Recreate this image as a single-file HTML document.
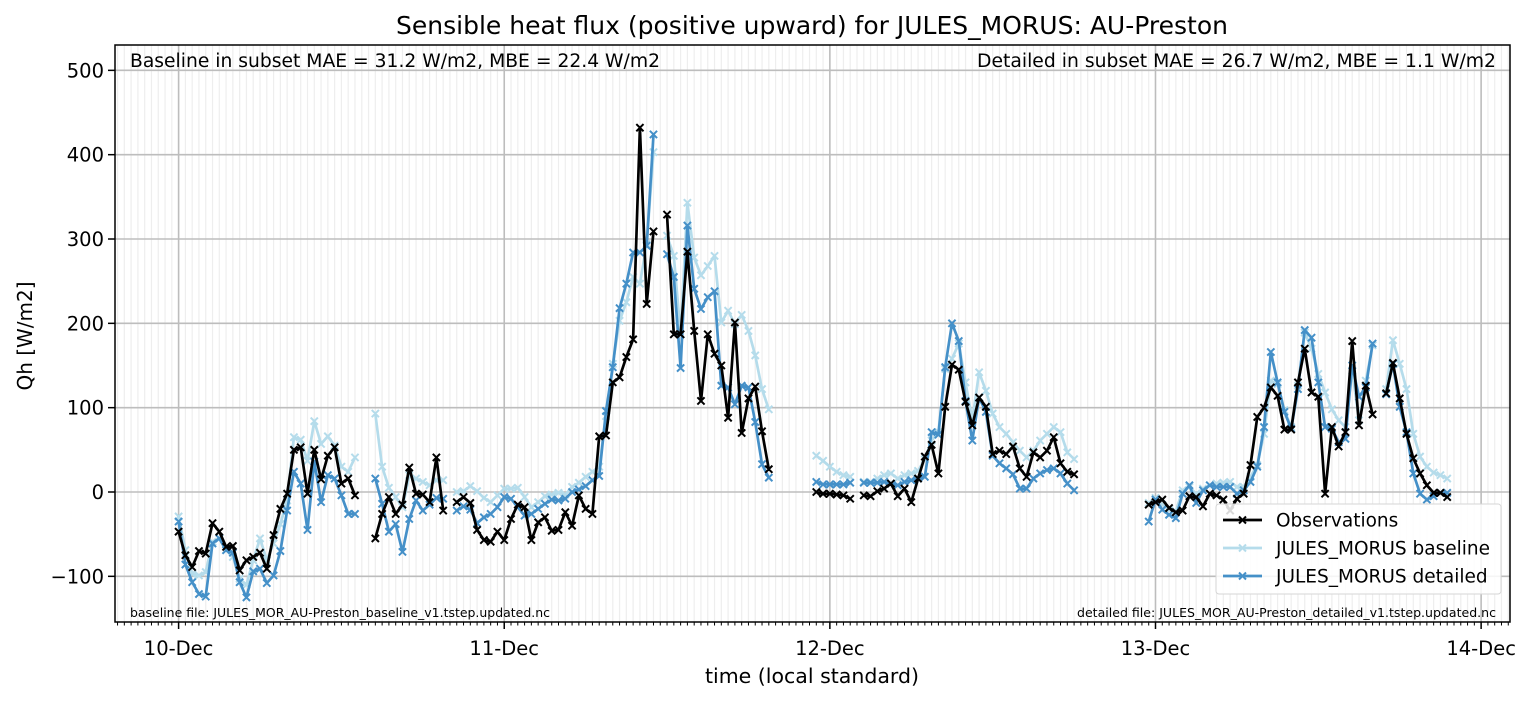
<!DOCTYPE html>
<html><head><meta charset="utf-8"><style>
html,body{margin:0;padding:0;background:#fff;}
svg text{font-family:"DejaVu Sans","Liberation Sans",sans-serif;}
</style></head><body>
<svg id="chart" width="1532" height="701" viewBox="0 0 1532 701" xmlns="http://www.w3.org/2000/svg">
<rect width="1532" height="701" fill="#fff"/>
<g id="grid"></g>
<g id="series"></g>
<g id="axes"></g>
<text x="812" y="34" font-size="24.5" text-anchor="middle" fill="#000" textLength="832" lengthAdjust="spacingAndGlyphs">Sensible heat flux (positive upward) for JULES_MORUS: AU-Preston</text>
<text x="130" y="67" font-size="18.5" fill="#000" textLength="530" lengthAdjust="spacingAndGlyphs">Baseline in subset MAE = 31.2 W/m2, MBE = 22.4 W/m2</text>
<text x="1496" y="67" font-size="18.5" text-anchor="end" fill="#000" textLength="519" lengthAdjust="spacingAndGlyphs">Detailed in subset MAE = 26.7 W/m2, MBE = 1.1 W/m2</text>
<text x="130" y="617" font-size="12.3" fill="#000" textLength="420" lengthAdjust="spacingAndGlyphs">baseline file: JULES_MOR_AU-Preston_baseline_v1.tstep.updated.nc</text>
<text x="1496" y="617" font-size="12.3" text-anchor="end" fill="#000" textLength="419" lengthAdjust="spacingAndGlyphs">detailed file: JULES_MOR_AU-Preston_detailed_v1.tstep.updated.nc</text>
<text x="0" y="0" font-size="20" text-anchor="middle" transform="translate(32,336) rotate(-90)">Qh [W/m2]</text>
<text x="812" y="683" font-size="20.5" text-anchor="middle">time (local standard)</text>
<g id="legend">
<rect x="1216" y="504" width="285" height="90" rx="3" fill="#fff" fill-opacity="0.85" stroke="#d6d6d6"/>
</g>
</svg>
<script>
const dayLabels = ["10-Dec","11-Dec","12-Dec","13-Dec","14-Dec"];
const yTicks = [-100,0,100,200,300,400,500];
const N = null;
const obs = [-47,-75,-89,-70,-73,-37,-47,-65,-64,-93,-81,-77,-72,-91,-51,-20,-2,50,53,-2,50,15,43,53,10,16,-4,
N,N,
-55,-26,-6,-26,-15,29,-2,-3,-12,41,-22,
N,
-12,-6,-13,-45,-57,-59,-47,-57,-32,-15,-18,-57,-36,-30,-46,-45,-24,-40,-4,-20,-26,66,
67,130,136,160,181,432,223,309,
N,
329,187,187,285,191,108,187,164,150,88,201,70,111,125,72,27,
N,N,N,N,N,N,
0,-2,-2,-3,-4,-8,
N,
-4,-5,1,4,10,-5,4,-12,16,42,56,22,101,151,145,107,79,112,101,45,49,45,54,28,18,47,41,49,65,34,24,21,
N,N,N,N,N,N,N,N,N,N,
-15,-12,-9,-19,-24,-22,-5,-6,-17,-2,-4,-9,-22,-8,-2,32,89,100,124,114,74,74,130,170,118,113,-2,77,54,71,179,79,126,92,
N,
117,153,111,69,40,22,8,-1,-1,-6];
const baseline = [-29,-69,-97,-99,-95,-59,-55,-69,-77,-103,-110,-81,-55,-81,-61,-38,-10,65,62,37,84,57,66,55,30,24,41,
N,N,
93,30,5,-6,-18,20,16,12,8,14,14,
N,
0,1,7,1,-7,-12,-4,4,4,5,-6,-18,-12,-5,-3,-1,-3,6,11,18,24,30,
90,152,203,225,255,247,294,403,
N,
304,280,187,343,278,257,268,280,201,215,199,210,191,162,122,98,
N,N,N,N,N,N,
43,37,30,24,20,18,
N,
12,12,16,20,22,16,20,22,25,39,61,71,146,158,176,130,85,142,120,93,77,69,59,49,41,49,61,69,77,71,47,39,
N,N,N,N,N,N,N,N,N,N,
-13,-7,-15,-21,-23,2,6,-2,4,8,10,11,12,6,6,18,32,69,132,128,97,77,126,189,170,140,118,98,85,77,144,85,132,174,
N,
122,180,152,122,69,42,30,23,20,16];
const detailed = [-35,-86,-107,-121,-124,-61,-55,-69,-72,-107,-125,-94,-91,-108,-99,-70,-22,24,10,-45,36,-12,20,16,-4,-26,-26,
N,N,
16,-14,-47,-38,-71,-32,-10,-22,-15,-7,-8,
N,
-22,-17,-21,-37,-30,-26,-18,-6,-8,-18,-28,-26,-20,-14,-9,-10,-8,0,3,7,14,19,
96,148,218,247,284,284,292,424,
N,
282,255,147,316,241,217,231,238,126,124,104,126,124,83,33,17,
N,N,N,N,N,N,
12,9,9,9,9,11,
N,
11,11,11,12,10,8,12,14,16,18,71,68,148,200,179,108,61,112,95,43,34,28,21,4,4,16,22,26,28,22,10,2,
N,N,N,N,N,N,N,N,N,N,
-35,-9,-21,-27,-31,-2,8,-13,2,8,6,6,6,-2,2,12,30,77,166,130,95,75,122,192,183,130,77,75,59,63,150,113,124,176,
N,
116,152,101,71,22,-2,-9,-5,-1,-1];

const L=115,R=1510,T=45,B=622;
const X0=178.6, PX_PER_STEP=6.784; // half-hour steps
function xs(i){return X0+i*PX_PER_STEP;}
function ys(v){return 492-v*0.8433;}
const NS="http://www.w3.org/2000/svg";
function el(tag,attrs,parent){const e=document.createElementNS(NS,tag);for(const k in attrs)e.setAttribute(k,attrs[k]);parent.appendChild(e);return e;}
const grid=document.getElementById('grid'),series=document.getElementById('series'),axes=document.getElementById('axes'),legend=document.getElementById('legend');

for(let i=-9;i<=196;i++){const x=xs(i);if(x<=L||x>=R)continue;if(i%48===0)continue;
 const g=el('line',{x1:x,x2:x,y1:T,y2:B,stroke:'#eeeeee','stroke-width':1.2},grid);
 
 
 const t=el('line',{x1:x,x2:x,y1:B,y2:B+3.5,stroke:'#000','stroke-width':1},axes);
 
 
}
dayLabels.forEach((d,k)=>{const x=xs(k*48);
 const g=el('line',{x1:x,x2:x,y1:T,y2:B,stroke:'#bdbdbd','stroke-width':1.6},grid);
 
 
 const t=el('line',{x1:x,x2:x,y1:B,y2:B+7,stroke:'#000','stroke-width':1.5},axes);
 
 
 const tx=el('text',{x:x,y:655,'font-size':19.5,'text-anchor':'middle'},axes);tx.textContent=d;
 
 
});
yTicks.forEach(v=>{const y=ys(v);
 const g=el('line',{x1:L,x2:R,y1:y,y2:y,stroke:'#bdbdbd','stroke-width':1.6},grid);
 
 
 const t=el('line',{x1:L-7,x2:L,y1:y,y2:y,stroke:'#000','stroke-width':1.5},axes);
 
 
 const tx=el('text',{x:L-11,y:y+7,'font-size':19.5,'text-anchor':'end'},axes);tx.textContent=(v<0?'\u2212'+(-v):v);
 
 
});
const frame=el('rect',{x:L,y:T,width:R-L,height:B-T,fill:'none',stroke:'#000','stroke-width':1.5},axes);



function drawSeries(vals,color,name,width){
 const g=el('g',{},series);
 
 
 let d='',pen=false;
 vals.forEach((v,i)=>{if(v===null){pen=false;return;}d+=(pen?'L':'M')+xs(i).toFixed(1)+' '+ys(v).toFixed(1);pen=true;});
 const p=el('path',{d:d,fill:'none',stroke:color,'stroke-width':width,'stroke-linejoin':'round'},g);
 
 
 let m='';
 vals.forEach((v,i)=>{if(v===null)return;const x=xs(i),y=ys(v),s=3.6;m+=`M${x-s} ${y-s}L${x+s} ${y+s}M${x-s} ${y+s}L${x+s} ${y-s}`;});
 const mk=el('path',{d:m,fill:'none',stroke:color,'stroke-width':2},g);
 
 
}
drawSeries(baseline,'#b5dceb','baseline-series',2.7);
drawSeries(detailed,'#4590c8','detailed-series',2.7);
drawSeries(obs,'#000','observations-series',2.7);

const entries=[["Observations","#000"],["JULES_MORUS baseline","#b5dceb"],["JULES_MORUS detailed","#4590c8"]];
entries.forEach((e,k)=>{const y=520+k*28;
 const g=el('g',{},legend);
 
 
 el('line',{x1:1223,x2:1262,y1:y,y2:y,stroke:e[1],'stroke-width':2.8},g);
 el('path',{d:`M1239 ${y-3.5}L1246 ${y+3.5}M1239 ${y+3.5}L1246 ${y-3.5}`,stroke:e[1],'stroke-width':2},g);
 const t=el('text',{x:1276,y:y+6.5,'font-size':18.5},g);t.textContent=e[0];
});
</script>
</body></html>
